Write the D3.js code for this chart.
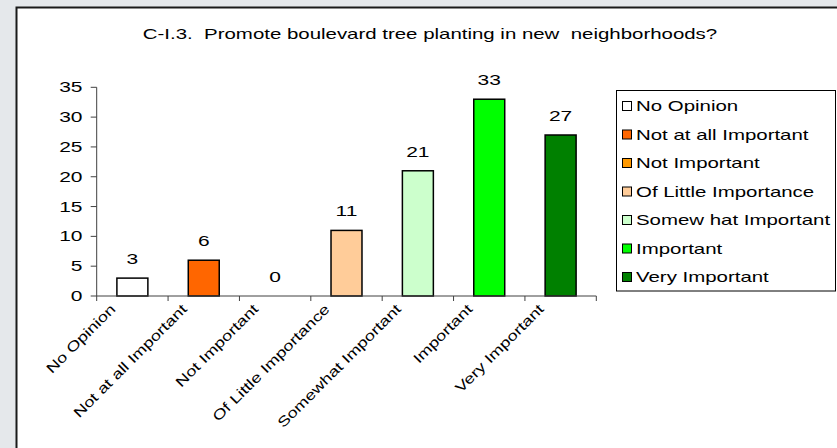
<!DOCTYPE html>
<html><head><meta charset="utf-8">
<script src="https://cdn.jsdelivr.net/npm/d3@7"></script>
<style>
html,body{margin:0;padding:0;background:#e5e8eb;}
svg{display:block;}
text{font-family:"Liberation Sans",Arial,sans-serif;fill:#000;}
</style></head>
<body>
<svg id="chart" width="837" height="448"></svg>
<script>
const title = "C-I.3.  Promote boulevard tree planting in new  neighborhoods?";
const categories = ["No Opinion","Not at all Important","Not Important","Of Little Importance","Somewhat Important","Important","Very Important"];
const legendLabels = ["No Opinion","Not at all Important","Not Important","Of Little Importance","Somew hat Important","Important","Very Important"];
const values = [3,6,0,11,21,33,27];
const colors = ["#ffffff","#ff6600","#ff9900","#ffcc99","#ccffcc","#00ff00","#008000"];
const yTicks = [0,5,10,15,20,25,30,35];

const svg = d3.select("#chart");

// panel
svg.append("rect").attr("x",0).attr("y",0).attr("width",837).attr("height",448).attr("fill","#e5e8eb");
svg.append("rect").attr("x",16.5).attr("y",7.5).attr("width",900).attr("height",500)
  .attr("fill","#fff").attr("stroke","#1a1a1a").attr("stroke-width",2);

function stext(g, str, x, y, opts){
  return g.append("text").text(str)
    .attr("transform",`translate(${x},${y}) rotate(${opts.rot||0}) scale(${opts.sx||1.42},1)`)
    .attr("font-size",opts.size||14)
    .attr("text-anchor",opts.anchor||"start")
    .style("white-space","pre");
}

stext(svg, title, 430, 38.5, {anchor:"middle", size:14, sx:1.46});

const x = d3.scaleBand().domain(categories).range([96.7,596.3]).paddingInner(0.566).paddingOuter(0.283);
const y = d3.scaleLinear().domain([0,35]).range([296,87.3]);
const step = x.step();
const x0 = 96.7;

// bars
svg.selectAll("rect.bar").data(values).enter().append("rect").attr("class","bar")
  .attr("x",(d,i)=>x(categories[i])).attr("width",x.bandwidth())
  .attr("y",d=>y(d)).attr("height",d=>y(0)-y(d))
  .attr("fill",(d,i)=>colors[i]).attr("stroke","#000").attr("stroke-width",d=>d>0?1.5:0);

// value labels
values.forEach((v,i)=>{
  stext(svg, String(v), x(categories[i])+x.bandwidth()/2, y(v)-14, {anchor:"middle", size:15, sx:1.4});
});

// y axis
const ax = svg.append("g").attr("stroke","#404040").attr("stroke-width",1);
ax.append("line").attr("x1",x0).attr("x2",x0).attr("y1",y(35)).attr("y2",y(0));
yTicks.forEach(t=>{
  ax.append("line").attr("x1",x0-6).attr("x2",x0).attr("y1",y(t)).attr("y2",y(t));
  stext(svg, String(t), 82.5, y(t)+5, {anchor:"end", size:14, sx:1.5});
});
// x axis
ax.append("line").attr("x1",x0).attr("x2",x0+step*7).attr("y1",y(0)).attr("y2",y(0));
d3.range(8).forEach(k=>{
  ax.append("line").attr("x1",x0+k*step).attr("x2",x0+k*step).attr("y1",y(0)).attr("y2",y(0)+5);
});
categories.forEach((c,i)=>{
  const cx = x(c)+x.bandwidth()/2;
  stext(svg, c, cx-16, 310, {anchor:"end", size:14, rot:-45, sx:1.3});
});

// legend
const lg = svg.append("g");
lg.append("rect").attr("x",616.5).attr("y",90.5).attr("width",219).attr("height",200.5)
  .attr("fill","#fff").attr("stroke","#000").attr("stroke-width",1);
legendLabels.forEach((l,i)=>{
  const cy = 106 + i*28.5;
  lg.append("rect").attr("x",622.5).attr("y",cy-4.5).attr("width",9).attr("height",9)
    .attr("fill",colors[i]).attr("stroke","#000").attr("stroke-width",1);
  stext(lg, l, 636, cy+5, {size:14, sx:1.46});
});
</script>
</body></html>
